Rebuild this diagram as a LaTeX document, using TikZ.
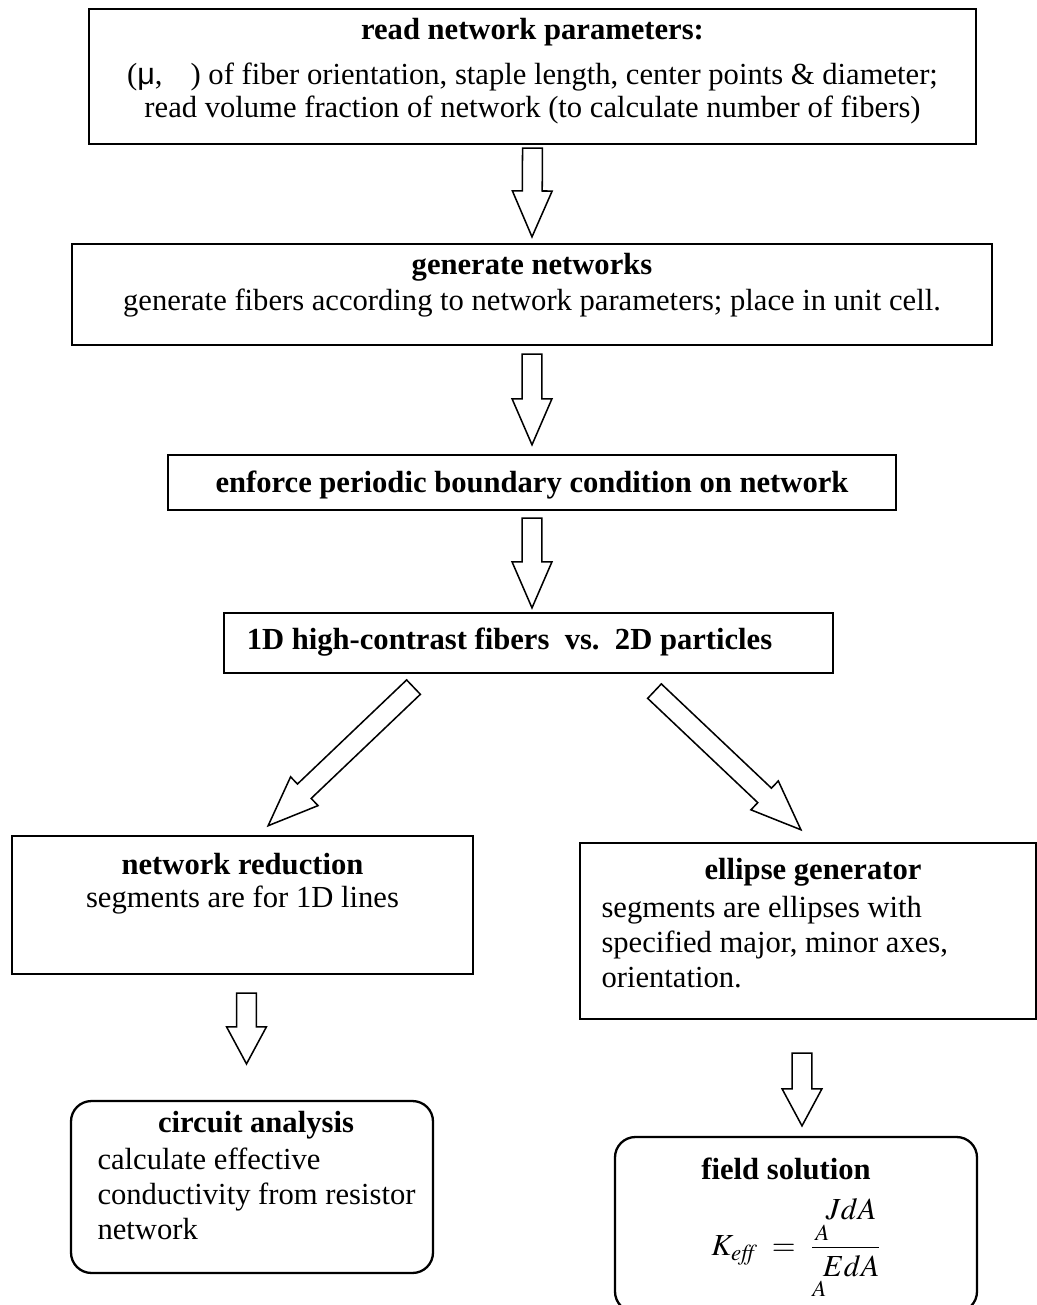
\documentclass[tikz,border=0pt]{standalone}
\usepackage{mathptmx}
\usepackage{fontspec}
\setmainfont{Liberation Serif}
\newfontfamily\musans{Liberation Sans}
\usetikzlibrary{calc}

% hollow block arrow: #1 head length, #2 tail, #3 tip
\newcommand{\fatarrow}[3]{%
  \draw[arrowline] let \p1=(#2), \p2=(#3), \n1={atan2(\y2-\y1,\x2-\x1)}, \n2={veclen(\x2-\x1,\y2-\y1)} in
    [shift={(\p1)}, rotate=\n1] (0pt,-3.9pt) -- (\n2-#1,-3.9pt) -- (\n2-#1,-7.8pt) -- (\n2,0pt)
    -- (\n2-#1,7.8pt) -- (\n2-#1,3.9pt) -- (0pt,3.9pt) -- cycle;}

\begin{document}
\begin{tikzpicture}[x=0.392pt, y=-0.392pt,
	box/.style={rectangle, draw, line width=0.9pt, inner sep=0},
	rbox/.style={box, rounded corners=8pt},
	ttl/.style={anchor=base, inner sep=0, font=\fontsize{12}{14}\selectfont\bfseries},
	txt/.style={anchor=base, inner sep=0, font=\fontsize{12}{14}\selectfont},
	lft/.style={txt, anchor=base west},
	arrowline/.style={line width=0.6pt, line join=miter, fill=white}]
		
		\useasboundingbox (0,0) rectangle (1037,1305);
		
		\node (read) at (532.5,76.5) [box, minimum width=347.7pt, minimum height=52.9pt] {};
		\node (gen) at (532,294.5) [box, minimum width=360.6pt, minimum height=39.6pt] {};
		\node (pbc) at (532,482.5) [box, minimum width=285.4pt, minimum height=21.6pt] {};
		\node (split) at (528.5,643) [box, minimum width=238.7pt, minimum height=23.5pt] {};
		\node (reduce) at (242.5,905) [box, minimum width=180.7pt, minimum height=54.1pt] {};
		\node (ellipse) at (808,931) [box, minimum width=178.8pt, minimum height=69pt] {};
		\node (circuit) at (252,1187) [rbox, minimum width=141.9pt, minimum height=67.4pt] {};
		\node (field) at (796,1224.5) [rbox, minimum width=141.9pt, minimum height=68.6pt] {};
		
		\node (readT) at (532.5,39) [ttl] {read network parameters:};
		\node (readA) at (532.5,84) [txt] {({\musans μ},\hspace{11pt}) of fiber orientation, staple length, center points \& diameter;};
		\node (readB) at (532.5,117) [txt] {read volume fraction of network (to calculate number of fibers)};
		
		\node (genT) at (532,274) [ttl] {generate networks};
		\node (genA) at (532,310) [txt] {generate fibers according to network parameters; place in unit cell.};
		
		\node (pbcT) at (532,492) [ttl] {enforce periodic boundary condition on network};
		
		\node (splitT) at (509.5,649) [ttl] {1D high-contrast fibers\ \ vs.\ \ 2D particles};
		
		\node (reduceT) at (242.5,874) [ttl] {network reduction};
		\node (reduceA) at (242.5,907) [txt] {segments are for 1D lines};
		
		\node (ellipseT) at (813,879) [ttl] {ellipse generator};
		\node (ellipseA) at (601,917) [lft] {segments are ellipses with};
		\node (ellipseB) at (601,952) [lft] {specified major, minor axes,};
		\node (ellipseC) at (601,987) [lft] {orientation.};
		
		\node (circuitT) at (256,1132) [ttl] {circuit analysis};
		\node (circuitA) at (97,1169) [lft] {calculate effective};
		\node (circuitB) at (97,1204) [lft] {conductivity from resistor};
		\node (circuitC) at (97,1239) [lft] {network};
		
		\node (fieldT) at (786,1179) [ttl] {field solution};
		\node (keff) at (797,1249) [txt, anchor=center] {$\displaystyle K_{\mathit{eff}} \;=\; \frac{\mathop{}\limits_{A}\mkern-4mu JdA}{\mathop{}\limits_{A}\mkern-4mu EdA}$};
		
		\fatarrow{18pt}{$(read.south)+(0,3)$}{$(gen.north)+(0,-6)$}
		\fatarrow{18pt}{$(gen.south)+(0,8)$}{$(pbc.north)+(0,-9)$}
		\fatarrow{18pt}{$(pbc.south)+(0,7)$}{$(split.north)+(3.5,-4)$}
		\fatarrow{19.6pt}{$(split.south)+(-115,13)$}{$(reduce.north)+(25.5,-9)$}
		\fatarrow{19.6pt}{$(split.south)+(126,17)$}{$(ellipse.north)+(-7,-12)$}
		\fatarrow{14.5pt}{$(reduce.south)+(4,18)$}{$(circuit.north)+(-5.5,-36)$}
		\fatarrow{14.5pt}{$(ellipse.south)+(-6,33)$}{$(field.north)+(6,-10)$}
		
	\end{tikzpicture}
\end{document}
